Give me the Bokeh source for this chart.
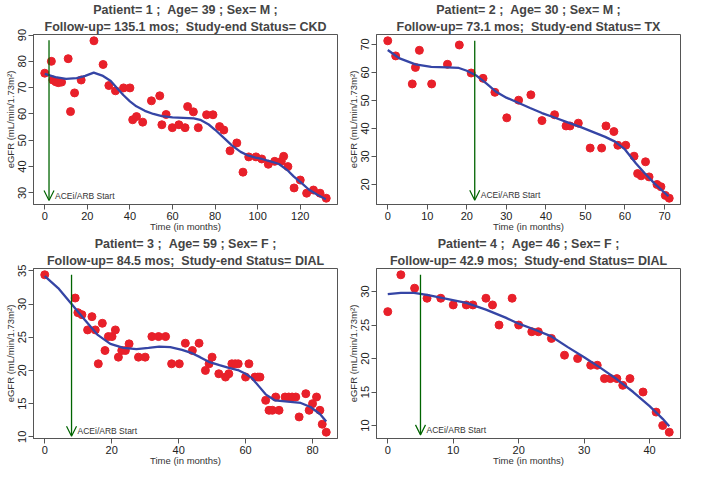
from bokeh.core.properties import value
from bokeh.embed import file_html
from bokeh.layouts import gridplot
from bokeh.models import Arrow, FixedTicker, OpenHead, Range1d, Title
from bokeh.plotting import figure
from bokeh.resources import INLINE

NB = "\u00a0"  # keeps R's double spaces in the titles

# ---- patient 1
p1_time = [0, 3.1, 3.8, 5.2, 6.4, 7.9, 11, 12.1, 14, 17.1, 23.1, 27.4, 30.1, 33.2, 37, 40,
           41.3, 43.1, 46, 50.1, 54, 55, 57, 59.9, 63, 65.9, 67.1, 69.8, 72.1, 76, 79, 82.1,
           84.1, 87, 90.2, 93.1, 95.8, 99.2, 101.9, 105, 108, 111.1, 112.2, 114.2, 117.1,
           120, 123, 126.2, 129.3, 132.2]
p1_egfr = [75.5, 80, 72.9, 72.2, 71.9, 72.1, 81, 60.9, 68, 72.9, 87.8, 78.8, 70.8, 68.8, 69.9,
           69.9, 57.8, 59, 56.9, 65, 66.9, 55.9, 59.8, 54.8, 55.9, 54.8, 62.8, 60.8, 54.8,
           59.7, 59.7, 55.2, 53.9, 46, 49, 37.9, 43.7, 43.7, 42.9, 40.9, 42, 42, 43.9, 40,
           31.9, 34.9, 29.9, 31.1, 29.9, 28]
p1_fit_time = [0, 5, 10, 15, 19, 23, 27, 31, 34, 37, 40, 43, 47, 51, 55, 60, 65, 70, 73, 77,
               80, 84, 88, 92, 95, 99, 102, 106, 110, 114, 117, 120, 124, 128, 132]
p1_fit_egfr = [75.2, 74.0, 73.3, 73.6, 74.5, 75.7, 74.6, 72.5, 69.8, 67.1, 64.8, 62.9, 61.2,
               60.0, 59.2, 58.7, 58.5, 58.3, 57.8, 56.0, 54.0, 51.0, 48.0, 45.6, 44.4, 43.4,
               42.9, 42.0, 41.0, 38.6, 36.2, 34.2, 31.3, 29.3, 27.6]
p1_xticks = [0, 20, 40, 60, 80, 100, 120]
p1_yticks = [30, 40, 50, 60, 70, 80, 90]
p1_arrow = (2, 88, 27.1)
p1_title = ["Patient= 1 ; " + NB + "Age= 39 ; Sex= M ;",
            "Follow-up= 135.1 mos; " + NB + "Study-end Status= CKD"]

# ---- patient 2
p2_time = [0, 2, 6.2, 7, 8, 11.1, 15.1, 18.1, 21.1, 24.1, 27.1, 30.1, 33.1, 36.2, 39, 42.2,
           45.1, 46.1, 48.2, 51.2, 54.1, 55.2, 57.2, 58.2, 60.2, 62.3, 63.2, 64.1, 65.2, 66.1,
           68.1, 69.1, 70.2, 71.2]
p2_egfr = [71.3, 65.9, 55.9, 61.8, 67.9, 55.9, 62.9, 69.8, 59.8, 57.9, 52.9, 43.8, 50.1, 52,
           42.8, 44.9, 40.9, 40.9, 41.9, 33, 33, 40.9, 38.9, 34, 34, 30.1, 23.9, 23.1, 28.1,
           22.7, 20, 19.2, 16.1, 15.1]
p2_fit_time = [0, 3, 7, 11, 15, 18, 20, 22.5, 25, 27.5, 30, 33, 36, 39, 42, 45.5, 49, 52, 55,
               57.5, 60, 62.8, 65, 67.5, 71]
p2_fit_egfr = [68, 65.0, 62.9, 62.0, 61.8, 61.6, 60.6, 58.8, 56.0, 53.0, 51.0, 49.2, 47.3,
               45.5, 44.0, 42.2, 40.4, 38.7, 37.0, 35.3, 32.5, 27.5, 24.0, 20.3, 15.8]
p2_xticks = [0, 10, 20, 30, 40, 50, 60, 70]
p2_yticks = [20, 30, 40, 50, 60, 70]
p2_arrow = (22, 71.3, 14.4)
p2_title = ["Patient= 2 ; " + NB + "Age= 30 ; Sex= M ;",
            "Follow-up= 73.1 mos; " + NB + "Study-end Status= TX"]

# ---- patient 3
p3_time = [0, 9.1, 9.9, 11.1, 12.8, 14.1, 15.1, 16, 17.2, 18, 19, 20.1, 21.1, 22, 23, 24.1,
           25.2, 28, 30, 32, 34, 36.1, 37.9, 40.2, 42, 44.1, 46.1, 48, 49.1, 50, 52, 54, 55,
           55.9, 56.9, 57.8, 60, 61, 62.8, 63.7, 64.3, 66, 67, 68, 69, 70, 71.8, 72.9, 73.9,
           75, 76, 78, 79, 80, 81.2, 82.2, 82.9, 84.1]
p3_egfr = [34.4, 30.9, 28.7, 28.4, 26.1, 28.1, 26.1, 21, 27.1, 23, 25.1, 25.1, 26.1, 22, 23,
           23, 24, 22, 22, 25.1, 25.1, 25.1, 21, 21, 24.1, 23, 24.1, 20, 21, 22, 19.5, 19,
           19.5, 21, 21, 21, 19, 21, 19, 19, 19, 15.5, 14, 14, 16, 14, 16, 16, 16, 16, 13,
           16.5, 14, 15, 16, 14, 11.9, 10.7]
p3_fit_time = [0, 4, 8, 12, 15.7, 19.6, 23.5, 27.4, 31, 34.2, 37.5, 41, 44, 46.4, 49, 52.2,
               55, 58, 60, 62, 64, 66, 68.7, 72.6, 76.5, 79.4, 82.3, 84.1]
p3_fit_egfr = [34.2, 32.4, 30.0, 27.6, 25.4, 24.0, 23.4, 23.2, 23.4, 23.6, 23.5, 23.1, 22.6,
               22.0, 21.3, 20.8, 20.4, 20.0, 19.5, 18.8, 17.6, 16.4, 15.5, 15.3, 15.1, 14.5,
               13.4, 12.3]
p3_xticks = [0, 20, 40, 60, 80]
p3_yticks = [10, 15, 20, 25, 30, 35]
p3_arrow = (8, 34.4, 10.1)
p3_title = ["Patient= 3 ; " + NB + "Age= 59 ; Sex= F ;",
            "Follow-up= 84.5 mos; " + NB + "Study-end Status= DIAL"]

# ---- patient 4
p4_time = [0, 2, 4.1, 6, 8.1, 10, 12, 13, 15, 16, 17, 19, 20, 22, 23, 25, 27, 29, 31, 32,
           33.1, 34, 35, 35.9, 37, 39, 41, 42, 43]
p4_egfr = [27, 32.5, 30.5, 29, 29, 28, 28, 28, 29, 28, 25, 29, 25, 24, 24, 23, 20.5, 20, 19,
           19, 17, 17, 17, 16, 17, 15, 12, 10, 9]
p4_fit_time = [0, 2, 4, 6, 9, 12, 15, 18, 20, 22.5, 25, 27.5, 30, 32.5, 35, 37.5, 40, 42, 43]
p4_fit_egfr = [29.6, 29.8, 29.8, 29.5, 28.9, 28.3, 27.3, 26.1, 25.2, 24.3, 23.3, 21.7, 20.2,
               18.6, 16.9, 15.0, 12.9, 11.0, 9.9]
p4_xticks = [0, 10, 20, 30, 40]
p4_yticks = [10, 15, 20, 25, 30]
p4_arrow = (5, 32.5, 8.6)
p4_title = ["Patient= 4 ; " + NB + "Age= 46 ; Sex= F ;",
            "Follow-up= 42.9 mos; " + NB + "Study-end Status= DIAL"]

FONT = "Liberation Sans"
BOX = "#555555"


def padded(vals, frac=0.04):
    lo, hi = min(vals), max(vals)
    d = (hi - lo) * frac
    return Range1d(lo - d, hi + d)


def make_panel(time, egfr, fit_time, fit_egfr, xticks, yticks, arrow, title):
    p = figure(width=343, height=234, output_backend="svg", toolbar_location=None,
               x_range=padded(time), y_range=padded(egfr),
               min_border_left=33, min_border_right=6, min_border_bottom=30,
               min_border_top=0)
    p.background_fill_color = "white"
    p.border_fill_color = "white"
    p.outline_line_color = BOX
    p.outline_line_width = 1
    p.grid.visible = False

    # two-line title: default title is outermost, the added one sits next to the frame
    p.title.text = title[0]
    p.title.align = "center"
    p.title.text_font = FONT
    p.title.text_font_size = "12.5px"
    p.title.text_font_style = "bold"
    p.title.standoff = 0
    t2 = Title(text=title[1], align="center", text_font=FONT, text_font_size="12.5px",
               text_font_style="bold", standoff=2)
    p.add_layout(t2, "above")

    for ax in (p.xaxis, p.yaxis):
        ax.axis_line_color = BOX
        ax.major_tick_line_color = BOX
        ax.major_tick_out = 5
        ax.major_tick_in = 0
        ax.minor_tick_line_color = None
        ax.major_label_text_font = FONT
        ax.major_label_text_font_size = "11px"
        ax.major_label_text_color = "#222222"
        ax.major_label_standoff = 2
        ax.axis_label_text_font = FONT
        ax.axis_label_text_font_size = "9.5px"
        ax.axis_label_text_font_style = "normal"
        ax.axis_label_text_color = "#333333"
        ax.axis_label_standoff = 0
    p.xaxis.axis_label_standoff = -2
    p.xaxis.ticker = FixedTicker(ticks=xticks)
    p.yaxis.ticker = FixedTicker(ticks=yticks)
    p.yaxis.major_label_orientation = "vertical"
    p.xaxis.axis_label = "Time (in months)"
    p.yaxis.axis_label = "eGFR (mL/min/1.73m\u00b2)"

    p.scatter(time, egfr, size=8, color="#E8202A", line_color="#E8202A")
    p.line(fit_time, fit_egfr, line_color="#3545A5", line_width=2.3)

    ax_x, top, bottom = arrow
    p.add_layout(Arrow(end=OpenHead(size=10, line_color="darkgreen", line_width=1.2),
                       x_start=ax_x, y_start=top, x_end=ax_x, y_end=bottom,
                       line_color="darkgreen", line_width=1.3))
    p.text([ax_x], [bottom], text=["ACEi/ARB Start"], x_offset=6,
           text_font=value(FONT), text_font_size="8.5px", text_color="#333333",
           text_baseline="bottom", text_align="left")
    return p


p1 = make_panel(p1_time, p1_egfr, p1_fit_time, p1_fit_egfr, p1_xticks, p1_yticks, p1_arrow, p1_title)
p2 = make_panel(p2_time, p2_egfr, p2_fit_time, p2_fit_egfr, p2_xticks, p2_yticks, p2_arrow, p2_title)
p3 = make_panel(p3_time, p3_egfr, p3_fit_time, p3_fit_egfr, p3_xticks, p3_yticks, p3_arrow, p3_title)
p4 = make_panel(p4_time, p4_egfr, p4_fit_time, p4_fit_egfr, p4_xticks, p4_yticks, p4_arrow, p4_title)

grid = gridplot([[p1, p2], [p3, p4]], toolbar_location=None)

open("out.html", "w").write(file_html(grid, INLINE))
